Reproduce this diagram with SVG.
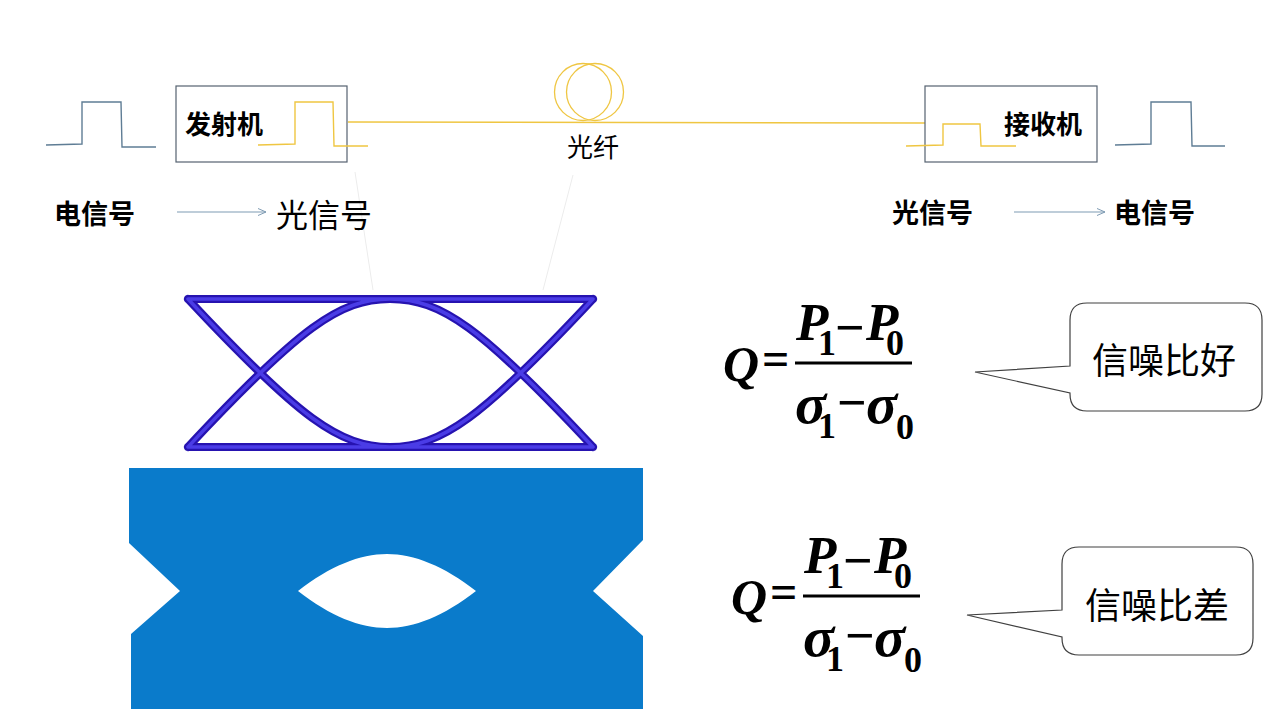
<svg xmlns="http://www.w3.org/2000/svg" width="1280" height="720" viewBox="0 0 1280 720">
<defs>
<marker id="arr" markerWidth="10" markerHeight="10" refX="8" refY="4" orient="auto" markerUnits="userSpaceOnUse">
<path d="M0,0.5 L8,4 L0,7.5" fill="none" stroke="#7f9bb3" stroke-width="1"/>
</marker>
<style>
.cjk{font-family:"Noto Sans CJK SC","Noto Sans",sans-serif;fill:#000}
.b{font-weight:bold}
.box{fill:none;stroke:#556270;stroke-width:1.2}
.epulse{fill:none;stroke:#5f7d95;stroke-width:1.4}
.ypulse{fill:none;stroke:#efc642;stroke-width:1.4}
.arrow{stroke:#7f9bb3;stroke-width:1.2;fill:none}
.faint{stroke:#ececec;stroke-width:1;fill:none}
.tube{fill:none;stroke:#2613b0;stroke-width:8;stroke-linecap:round}
.tubein{fill:none;stroke:#4a3ce6;stroke-width:3.5;stroke-linecap:round}
.math{font-family:"Liberation Serif","Times New Roman",serif;font-weight:bold;fill:#000}
.it{font-style:italic}
.callout{fill:#fff;stroke:#404040;stroke-width:1.2}
</style>
</defs>
<rect width="1280" height="720" fill="#fff"/>

<g id="connectors">
<line class="ypulse" x1="348" y1="122" x2="925" y2="123"/>
<line class="arrow" x1="177" y1="212" x2="266" y2="212" marker-end="url(#arr)"/>
<line class="arrow" x1="1014" y1="212" x2="1105" y2="212" marker-end="url(#arr)"/>
<line class="faint" x1="355" y1="172" x2="373" y2="290"/>
<line class="faint" x1="573" y1="175" x2="543" y2="290"/>
</g>

<g id="input-electrical">
<polyline class="epulse" points="46,145 82,144 82,102 121,102 122,147 156,147"/>
<text class="cjk b" x="54" y="224" font-size="27">电信号</text>
</g>

<g id="transmitter">
<rect class="box" x="176" y="86" width="171" height="76"/>
<text class="cjk b" x="185" y="134" font-size="26">发射机</text>
<polyline class="ypulse" points="258,145 295,144 295,102 333,102 334,146 368,146"/>
</g>

<g id="optical-label-left">
<text class="cjk" x="276" y="227" font-size="32">光信号</text>
</g>

<g id="fiber">
<circle cx="583" cy="92" r="28.5" fill="none" stroke="#efc642" stroke-width="1.3"/>
<circle cx="595" cy="92" r="28.5" fill="none" stroke="#efc642" stroke-width="1.3"/>
<text class="cjk" x="567" y="157" font-size="26">光纤</text>
</g>

<g id="receiver">
<rect class="box" x="925" y="86" width="172" height="76"/>
<text class="cjk b" x="1004" y="134" font-size="26">接收机</text>
<polyline class="ypulse" points="906,146 943,145 943,124 980,124 981,146 1016,146"/>
</g>

<g id="optical-label-right">
<text class="cjk b" x="892" y="223" font-size="27">光信号</text>
</g>

<g id="output-electrical">
<polyline class="epulse" points="1115,145 1151,144 1151,102 1191,102 1192,146 1225,146"/>
<text class="cjk b" x="1114" y="223" font-size="27">电信号</text>
</g>

<g id="eye-good">
<path id="eyeg" d="M188,299 H593 M188,447 H593 M188,299 C300,419 340,447 390,447 M593,299 C481,419 441,447 390,447 M188,447 C300,327 340,299 390,299 M593,447 C481,327 441,299 390,299" class="tube"/>
<path d="M188,299 H593 M188,447 H593 M188,299 C300,419 340,447 390,447 M593,299 C481,419 441,447 390,447 M188,447 C300,327 340,299 390,299 M593,447 C481,327 441,299 390,299" class="tubein"/>
</g>

<g id="eye-bad">
<path fill="#0a7bcb" fill-rule="evenodd" d="M129,468 H643 V540 L593,591 L643,636 V709 H131 V634 L180,591 L129,543 Z M298,591 C330,566 360,554 387,554 C414,554 444,566 476,591 C444,616 414,628 387,628 C360,628 330,616 298,591 Z"/>
</g>

<g id="formula-good">
<text class="math it" x="723" y="381" font-size="50">Q</text>
<text class="math" x="762" y="375" font-size="48">=</text>
<line x1="795" y1="363" x2="912" y2="363" stroke="#000" stroke-width="3"/>
<text class="math it" x="796" y="340" font-size="53">P</text>
<text class="math" x="818" y="355" font-size="36">1</text>
<text class="math" x="835" y="345" font-size="52">−</text>
<text class="math it" x="866" y="340" font-size="53">P</text>
<text class="math" x="886" y="355" font-size="36">0</text>
<text class="math it" x="795" y="423" font-size="58">σ</text>
<text class="math" x="818" y="438" font-size="36">1</text>
<text class="math" x="837" y="420" font-size="52">−</text>
<text class="math it" x="866" y="423" font-size="58">σ</text>
<text class="math" x="896" y="439" font-size="36">0</text>
</g>

<g id="formula-bad" transform="translate(8,233)">
<text class="math it" x="723" y="381" font-size="50">Q</text>
<text class="math" x="762" y="375" font-size="48">=</text>
<line x1="795" y1="363" x2="912" y2="363" stroke="#000" stroke-width="3"/>
<text class="math it" x="796" y="340" font-size="53">P</text>
<text class="math" x="818" y="355" font-size="36">1</text>
<text class="math" x="835" y="345" font-size="52">−</text>
<text class="math it" x="866" y="340" font-size="53">P</text>
<text class="math" x="886" y="355" font-size="36">0</text>
<text class="math it" x="795" y="423" font-size="58">σ</text>
<text class="math" x="818" y="438" font-size="36">1</text>
<text class="math" x="837" y="420" font-size="52">−</text>
<text class="math it" x="866" y="423" font-size="58">σ</text>
<text class="math" x="896" y="439" font-size="36">0</text>
</g>

<g id="callout-good">
<path class="callout" d="M1087,303 H1245 Q1262,303 1262,320 V394 Q1262,411 1245,411 H1087 Q1070,411 1070,394 V393 L975,372 L1070,366 V320 Q1070,303 1087,303 Z"/>
<text class="cjk" x="1092" y="374" font-size="36">信噪比好</text>
</g>

<g id="callout-bad">
<path class="callout" d="M1079,547 H1236 Q1253,547 1253,564 V638 Q1253,655 1236,655 H1079 Q1062,655 1062,638 V637 L967,615 L1062,610 V564 Q1062,547 1079,547 Z"/>
<text class="cjk" x="1085" y="619" font-size="36">信噪比差</text>
</g>
</svg>
